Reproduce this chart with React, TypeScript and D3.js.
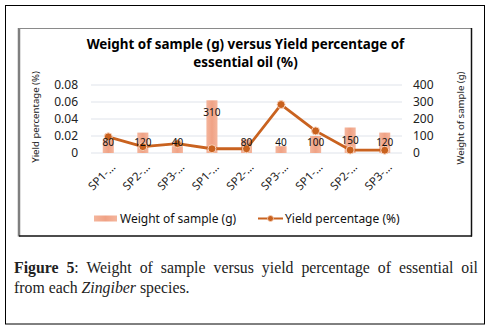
import React, { useEffect, useRef } from "react";
import * as d3 from "d3";

const categories = ["SP1-…", "SP2-…", "SP3-…", "SP1-…", "SP2-…", "SP3-…", "SP1-…", "SP2-…", "SP3-…"];
const weights = [80, 120, 40, 310, 80, 40, 100, 150, 120];
const yields = [0.019, 0.0075, 0.011, 0.005, 0.005, 0.057, 0.026, 0.0035, 0.0033];
const leftTicks = [0, 0.02, 0.04, 0.06, 0.08];
const rightTicks = [0, 100, 200, 300, 400];
const titleLines = ["Weight of sample (g) versus Yield percentage of", "essential oil (%)"];

const W = 491;
const H = 330;
const FONT = "'Noto Sans', 'Open Sans', sans-serif";
const SERIF = "'Liberation Serif', 'DejaVu Serif', serif";

export default function App() {
  const capRef = useRef<SVGTextElement>(null);

  useEffect(() => {
    const el = capRef.current;
    if (!el) return;
    const target = 464;
    el.setAttribute("word-spacing", "0");
    const len = el.getComputedTextLength();
    const words = (el.textContent || "").trim().split(/\s+/).length;
    const ws = (target - len) / (words - 1);
    el.setAttribute("word-spacing", String(ws));
  }, []);

  const idx = categories.map((_, i) => String(i));
  const x = d3.scaleBand().domain(idx).range([91, 402]);
  const yL = d3.scaleLinear().domain([0, 0.08]).range([153, 85]);
  const yR = d3.scaleLinear().domain([0, 400]).range([153, 85]);
  const bw = x.bandwidth() * 0.32;
  const cx = (i: number) => (x(String(i)) as number) + x.bandwidth() / 2;

  const line = d3
    .line<number>()
    .x((_, i) => cx(i))
    .y((d) => yL(d));

  const lineColor = "#c9621f";

  return (
    <div style={{ position: "absolute", left: 0, top: 0 }}>
      <svg width={W} height={H} style={{ display: "block" }}>
        <defs>
          <linearGradient id="barGrad" x1="0" x2="1" y1="0" y2="0">
            <stop offset="0" stopColor="#f4b59c" />
            <stop offset="0.5" stopColor="#f0a285" />
            <stop offset="1" stopColor="#f4b59c" />
          </linearGradient>
        </defs>
        <rect x={0} y={0} width={W} height={H} fill="#fff" />
        {/* outer frame */}
        <rect x={5.5} y={5.5} width={479} height={318.5} fill="none" stroke="#000" strokeWidth={1} />
        {/* chart box */}
        <line x1={19} x2={19} y1={28} y2={236.5} stroke="#7f7f7f" strokeWidth={2.5} />
        <line x1={19} x2={472} y1={28.5} y2={28.5} stroke="#8a8a8a" strokeWidth={1} />
        <line x1={471.5} x2={471.5} y1={28} y2={236.5} stroke="#111" strokeWidth={1.5} />
        <line x1={19} x2={472} y1={236} y2={236} stroke="#111" strokeWidth={1.5} />

        {/* title */}
        {titleLines.map((t, i) => (
          <text
            key={i}
            x={245.5}
            y={48.5 + i * 18}
            textAnchor="middle"
            fontFamily={FONT}
            fontWeight="bold"
            fontSize={13.4}
            fill="#000"
          >
            {t}
          </text>
        ))}

        {/* gridlines */}
        {leftTicks.map((t) => (
          <line key={t} x1={91} x2={402} y1={yL(t)} y2={yL(t)} stroke="#dfe3ea" strokeWidth={1} />
        ))}

        {/* left ticks */}
        {leftTicks.map((t) => (
          <text
            key={"l" + t}
            x={78}
            y={yL(t)}
            dy="0.35em"
            textAnchor="end"
            fontFamily={FONT}
            fontSize={12}
            fill="#222"
          >
            {t === 0 ? "0" : d3.format(".2f")(t)}
          </text>
        ))}
        {/* right ticks */}
        {rightTicks.map((t) => (
          <text
            key={"r" + t}
            x={413}
            y={yR(t)}
            dy="0.35em"
            textAnchor="start"
            fontFamily={FONT}
            fontSize={12}
            fill="#222"
          >
            {t}
          </text>
        ))}

        {/* axis titles */}
        <text
          transform={`translate(36,117) rotate(-90)`}
          textAnchor="middle"
          dy="0.35em"
          fontFamily={FONT}
          fontSize={9.6}
          fill="#222"
        >
          Yield percentage (%)
        </text>
        <text
          transform={`translate(461,118) rotate(-90)`}
          textAnchor="middle"
          dy="0.35em"
          fontFamily={FONT}
          fontSize={9.6}
          fill="#222"
        >
          Weight of sample (g)
        </text>

        {/* bars */}
        {weights.map((v, i) => (
          <rect
            key={"b" + i}
            x={cx(i) - bw / 2}
            y={yR(v)}
            width={bw}
            height={yR(0) - yR(v)}
            fill="url(#barGrad)"
          />
        ))}

        {/* line */}
        <path d={line(yields) || ""} fill="none" stroke={lineColor} strokeWidth={2.8} strokeLinejoin="round" />
        {yields.map((v, i) => (
          <circle key={"c" + i} cx={cx(i)} cy={yL(v)} r={4} fill={lineColor} stroke="#f9d3bd" strokeWidth={1} />
        ))}

        {/* data labels */}
        {weights.map((v, i) => (
          <text
            key={"d" + i}
            x={cx(i)}
            y={Math.min(yR(v) + 12.5, yR(0) - 11)}
            dy="0.35em"
            textAnchor="middle"
            fontFamily={FONT}
            fontSize={10}
            fill="#111"
          >
            {v}
          </text>
        ))}

        {/* x labels */}
        {categories.map((c, i) => (
          <text
            key={"x" + i}
            transform={`translate(${cx(i) + 5},${165}) rotate(-45)`}
            textAnchor="end"
            dy="0.35em"
            fontFamily={FONT}
            fontSize={11.5}
            fill="#222"
          >
            {c}
          </text>
        ))}

        {/* legend */}
        <rect x={94} y={215.5} width={23} height={6} fill="url(#barGrad)" />
        <text x={120} y={218.5} dy="0.35em" fontFamily={FONT} fontSize={12} fill="#111">
          Weight of sample (g)
        </text>
        <line x1={258} x2={283} y1={218.5} y2={218.5} stroke={lineColor} strokeWidth={2} />
        <circle cx={270.5} cy={218.5} r={3} fill={lineColor} stroke="#f9d3bd" strokeWidth={0.8} />
        <text x={285} y={218.5} dy="0.35em" fontFamily={FONT} fontSize={12} fill="#111">
          Yield percentage (%)
        </text>

        {/* caption */}
        <text ref={capRef} x={14} y={272.5} fontFamily={SERIF} fontSize={15.8} fill="#222">
          <tspan fontWeight="bold">Figure 5</tspan>
          <tspan>: Weight of sample versus yield percentage of essential oil</tspan>
        </text>
        <text x={14} y={292.5} fontFamily={SERIF} fontSize={15.8} fill="#222">
          <tspan>from each </tspan>
          <tspan fontStyle="italic">Zingiber</tspan>
          <tspan> species.</tspan>
        </text>
      </svg>
    </div>
  );
}
